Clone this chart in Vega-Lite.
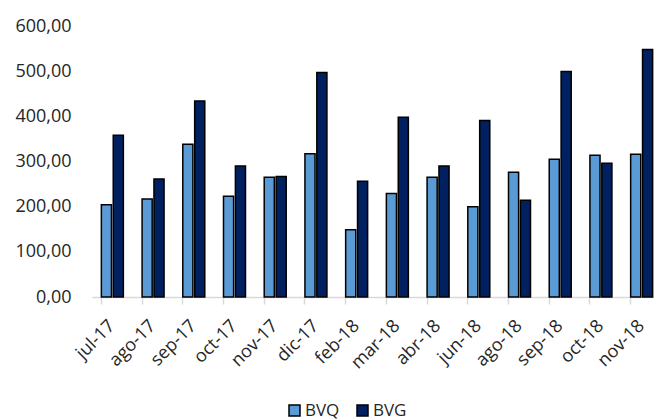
{
  "$schema": "https://vega.github.io/schema/vega-lite/v6.json",
  "width": 570,
  "height": 271,
  "autosize": {"type": "none"},
  "padding": {"left": 92, "top": 26, "right": 0, "bottom": 122},
  "background": "white",
  "config": {
    "view": {"stroke": null},
    "locale": {"number": {"decimal": ",", "thousands": ".", "grouping": [3], "currency": ["", " €"]}},
    "font": "Open Sans"
  },
  "data": {
    "values": [
      {"mes": "jul-17", "serie": "BVQ", "valor": 204}, {"mes": "jul-17", "serie": "BVG", "valor": 358},
      {"mes": "ago-17", "serie": "BVQ", "valor": 217}, {"mes": "ago-17", "serie": "BVG", "valor": 261},
      {"mes": "sep-17", "serie": "BVQ", "valor": 338}, {"mes": "sep-17", "serie": "BVG", "valor": 434},
      {"mes": "oct-17", "serie": "BVQ", "valor": 223}, {"mes": "oct-17", "serie": "BVG", "valor": 290},
      {"mes": "nov-17", "serie": "BVQ", "valor": 265}, {"mes": "nov-17", "serie": "BVG", "valor": 267},
      {"mes": "dic-17", "serie": "BVQ", "valor": 317}, {"mes": "dic-17", "serie": "BVG", "valor": 497},
      {"mes": "feb-18", "serie": "BVQ", "valor": 149}, {"mes": "feb-18", "serie": "BVG", "valor": 256},
      {"mes": "mar-18", "serie": "BVQ", "valor": 229}, {"mes": "mar-18", "serie": "BVG", "valor": 398},
      {"mes": "abr-18", "serie": "BVQ", "valor": 265}, {"mes": "abr-18", "serie": "BVG", "valor": 290},
      {"mes": "jun-18", "serie": "BVQ", "valor": 200}, {"mes": "jun-18", "serie": "BVG", "valor": 391},
      {"mes": "ago-18", "serie": "BVQ", "valor": 276}, {"mes": "ago-18", "serie": "BVG", "valor": 214},
      {"mes": "sep-18", "serie": "BVQ", "valor": 305}, {"mes": "sep-18", "serie": "BVG", "valor": 499},
      {"mes": "oct-18", "serie": "BVQ", "valor": 314}, {"mes": "oct-18", "serie": "BVG", "valor": 296},
      {"mes": "nov-18", "serie": "BVQ", "valor": 316}, {"mes": "nov-18", "serie": "BVG", "valor": 548}
    ]
  },
  "mark": {"type": "bar", "stroke": "#000000", "strokeWidth": 1.5},
  "encoding": {
    "x": {
      "field": "mes",
      "type": "nominal",
      "sort": null,
      "title": null,
      "scale": {"paddingInner": 0.46, "paddingOuter": 0.23},
      "axis": {
        "labelAngle": -45,
        "labelAlign": "right",
        "labelBaseline": "middle",
        "labelFontSize": 18,
        "labelColor": "#262626",
        "labelPadding": 19,
        "bandPosition": 0,
        "tickSize": 7,
        "tickColor": "#D9D9D9",
        "tickWidth": 1.5,
        "domainColor": "#D9D9D9",
        "domainWidth": 1.5,
        "grid": false
      }
    },
    "xOffset": {
      "field": "serie",
      "type": "nominal",
      "sort": ["BVQ", "BVG"],
      "scale": {"paddingInner": 0.15}
    },
    "y": {
      "field": "valor",
      "type": "quantitative",
      "title": null,
      "scale": {"domain": [0, 600], "nice": false},
      "axis": {
        "values": [0, 100, 200, 300, 400, 500, 600],
        "format": ".2f",
        "labelFontSize": 18,
        "labelColor": "#262626",
        "labelPadding": 21,
        "ticks": false,
        "domain": false,
        "grid": false
      }
    },
    "color": {
      "field": "serie",
      "type": "nominal",
      "sort": ["BVQ", "BVG"],
      "scale": {"domain": ["BVQ", "BVG"], "range": ["#5B9BD5", "#002060"]},
      "legend": {
        "title": null,
        "orient": "none",
        "direction": "horizontal",
        "legendX": 194,
        "legendY": 376,
        "symbolType": "square",
        "symbolSize": 121,
        "symbolStrokeColor": "#000000",
        "symbolStrokeWidth": 1.5,
        "labelFontSize": 17,
        "labelColor": "#262626",
        "labelOffset": 2,
        "columnPadding": 14
      }
    }
  }
}
